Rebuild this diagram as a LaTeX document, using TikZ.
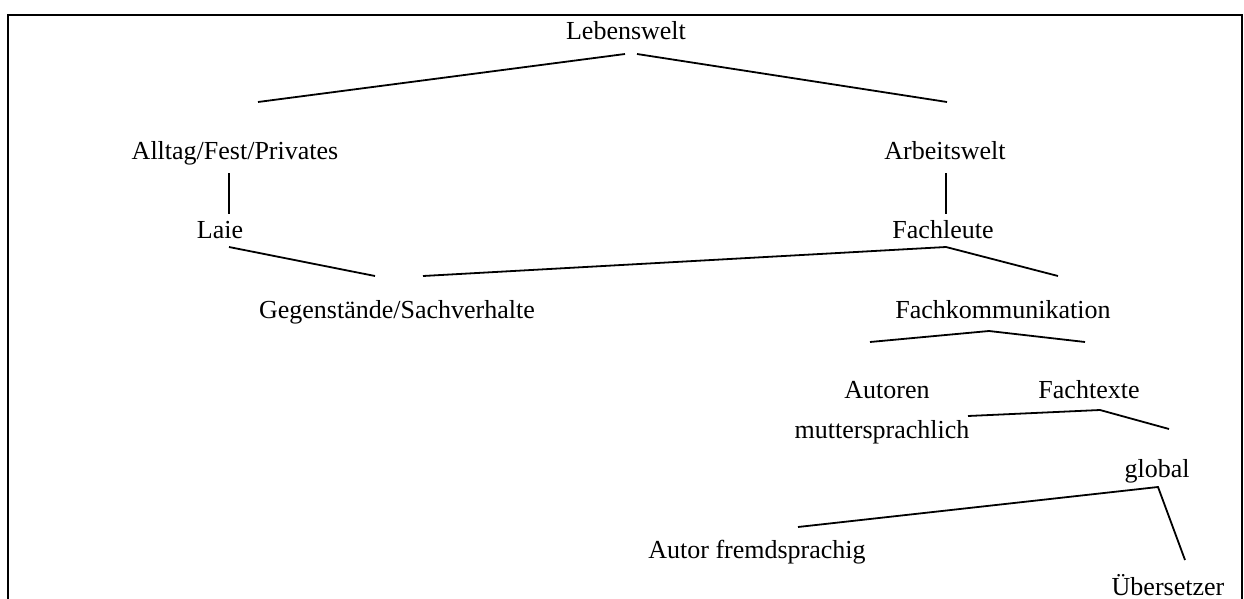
\documentclass[tikz,border=0pt]{standalone}
\usepackage{fontspec}
\setmainfont{Liberation Serif}
\begin{document}
\begin{tikzpicture}[x=1pt,y=-1pt,
  lbl/.style={inner sep=0pt,anchor=base,font=\fontsize{26}{30}\selectfont},
  conn/.style={line width=1.8pt,line join=miter},
  frame/.style={line width=2pt}]
\useasboundingbox (0,0) rectangle (1244,599);
\draw[frame] (8,599) -- (8,15) -- (1242,15) -- (1242,599);
% texts
\node[lbl] (leben) at (626,40) {Lebenswelt};
\node[lbl] (alltag) at (235,159) {Alltag/Fest/Privates};
\node[lbl] (arbeit) at (945,159) {Arbeitswelt};
\node[lbl] (laie) at (220,238) {Laie};
\node[lbl] (fachleute) at (943,238) {Fachleute};
\node[lbl] (gegen) at (397,318) {Gegenstände/Sachverhalte};
\node[lbl] (fachkomm) at (1003,318) {Fachkommunikation};
\node[lbl] (autoren) at (887,398) {Autoren};
\node[lbl] (fachtexte) at (1089,398) {Fachtexte};
\node[lbl] (mutter) at (882,438) {muttersprachlich};
\node[lbl] (global) at (1157,477) {global};
\node[lbl] (fremd) at (757,558) {Autor fremdsprachig};
\node[lbl] (uebers) at (1168,595) {Übersetzer};
% connector end points
\coordinate (l1a) at (258,102); \coordinate (l1b) at (625,54);
\coordinate (r1a) at (637,54);  \coordinate (r1b) at (947,102);
\coordinate (v1a) at (229,173); \coordinate (v1b) at (229,214);
\coordinate (v2a) at (946,173); \coordinate (v2b) at (946,214);
\coordinate (la) at (229,247);  \coordinate (lb) at (375,276);
\coordinate (fg) at (423,276);  \coordinate (fa) at (946,247); \coordinate (fk) at (1058,276);
\coordinate (ka) at (870,342);  \coordinate (kb) at (989,331); \coordinate (kc) at (1085,342);
\coordinate (ta) at (968,416);  \coordinate (tb) at (1100,410); \coordinate (tc) at (1169,429);
\coordinate (ga) at (798,527);  \coordinate (gb) at (1158,487); \coordinate (gc) at (1185,560);
% connectors
\draw[conn] (l1a) -- (l1b);
\draw[conn] (r1a) -- (r1b);
\draw[conn] (v1a) -- (v1b);
\draw[conn] (v2a) -- (v2b);
\draw[conn] (la) -- (lb);
\draw[conn] (fg) -- (fa) -- (fk);
\draw[conn] (ka) -- (kb) -- (kc);
\draw[conn] (ta) -- (tb) -- (tc);
\draw[conn] (ga) -- (gb) -- (gc);
\end{tikzpicture}
\end{document}
